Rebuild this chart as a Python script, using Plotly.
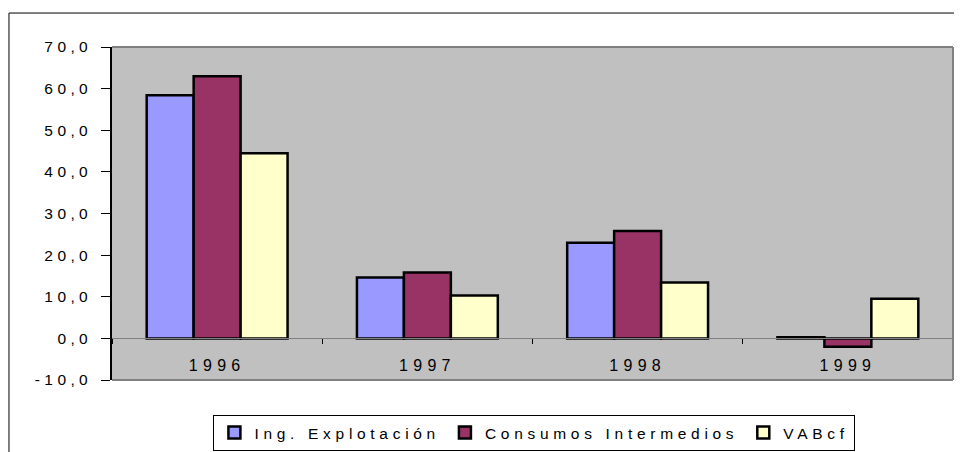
import plotly.graph_objects as go

years = ["1996", "1997", "1998", "1999"]
ing_explotacion = [58.4, 14.6, 23.0, 0.3]
consumos_intermedios = [63.0, 15.8, 25.8, -2.0]
vabcf = [44.5, 10.3, 13.4, 9.5]
series_names = ["Ing. Explotación", "Consumos Intermedios", "VABcf"]
y_tick_values = [-10, 0, 10, 20, 30, 40, 50, 60, 70]

colors = ["#9999FF", "#993366", "#FFFFCC"]
FONT = "Liberation Sans, Arial, sans-serif"


def spaced(t, px=4.4):
    return '<span style="letter-spacing:%spx">%s</span>' % (px, t)


y_tick_text = [spaced(f"{v:.1f}".replace(".", ","), 4.4) for v in y_tick_values]
x_tick_text = [spaced(y, 5.3) for y in years]

fig = go.Figure()
for name, vals, col in zip(series_names, [ing_explotacion, consumos_intermedios, vabcf], colors):
    fig.add_trace(go.Bar(
        x=years, y=vals, name=spaced(name, 4.7),
        marker=dict(color=col, line=dict(color="#000000", width=2.5)),
    ))

# the page body has an 8px default margin; the figure is sized to fit the 962x452 window
fig.update_layout(
    width=954, height=444,
    margin=dict(l=104, r=9, t=39, b=72, autoexpand=False),
    paper_bgcolor="white",
    plot_bgcolor="#C0C0C0",
    barmode="group",
    bargap=0.33,
    bargroupgap=0,
    font=dict(family=FONT, size=15.5, color="#000000"),
    showlegend=True,
    legend=dict(
        orientation="h",
        x=0.1206, xanchor="left",
        y=-0.105, yanchor="top",
        bordercolor="#000000", borderwidth=1,
        bgcolor="white",
        font=dict(family=FONT, size=15.5, color="#000000"),
        traceorder="normal",
    ),
    xaxis=dict(
        type="category",
        anchor="free",
        position=0.125,
        automargin=False,
        showline=True, linecolor="#808080", linewidth=1,
        ticks="outside", tickson="boundaries", ticklen=5, tickcolor="#000000", tickwidth=1,
        tickvals=years, ticktext=x_tick_text,
        ticklabelstandoff=12,
        tickfont=dict(family=FONT, size=16, color="#000000"),
        showgrid=False, zeroline=False,
    ),
    yaxis=dict(
        range=[-10, 70],
        domain=[0, 1],
        automargin=False,
        tickvals=y_tick_values, ticktext=y_tick_text,
        showline=True, linecolor="#000000", linewidth=1.5,
        ticks="outside", ticklen=9, tickcolor="#000000", tickwidth=1,
        ticklabelstandoff=6,
        tickfont=dict(family=FONT, size=15.5, color="#000000"),
        showgrid=False, zeroline=False,
    ),
    shapes=[
        # plot-area border (top, right, bottom)
        dict(type="line", xref="paper", yref="paper", x0=0, x1=1, y0=1, y1=1,
             line=dict(color="#808080", width=2)),
        dict(type="line", xref="paper", yref="paper", x0=1, x1=1, y0=0, y1=1,
             line=dict(color="#808080", width=2)),
        dict(type="line", xref="paper", yref="paper", x0=0, x1=1, y0=0, y1=0,
             line=dict(color="#808080", width=2)),
        # outer chart border
        dict(type="rect", xref="paper", yref="paper", x0=-0.1225, x1=1.2, y0=-0.5, y1=1.102,
             line=dict(color="#000000", width=1)),
    ],
)

fig.write_html("out.html")
